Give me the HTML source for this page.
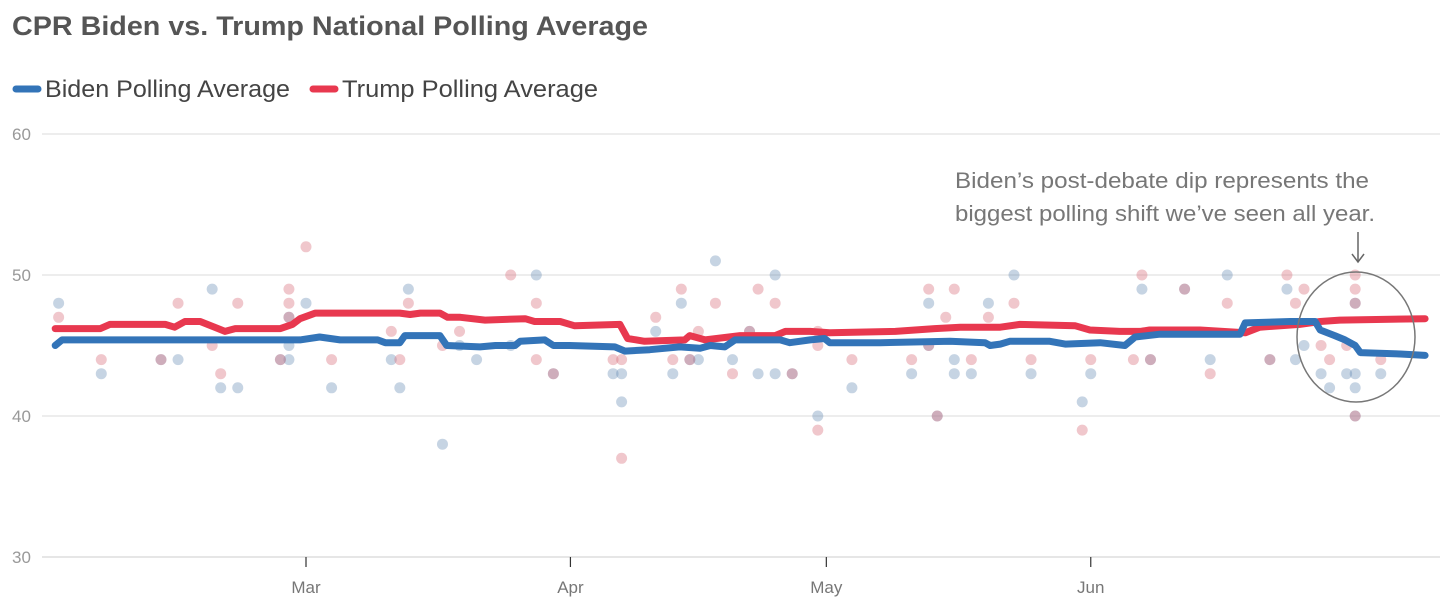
<!DOCTYPE html>
<html><head><meta charset="utf-8"><style>
html,body{margin:0;padding:0;background:#fff;}
svg{display:block;font-family:"Liberation Sans",sans-serif;}
</style></head><body>
<svg id="chart" width="1456" height="612" viewBox="0 0 1456 612">
<text x="12" y="35" font-size="27" font-weight="bold" fill="#555" textLength="636" lengthAdjust="spacingAndGlyphs">CPR Biden vs. Trump National Polling Average</text>
<g>
<g>
<line x1="16" y1="89" x2="38" y2="89" stroke="#3374b8" stroke-width="7" stroke-linecap="round"/>
<text x="45" y="97" font-size="24" fill="#444" textLength="245" lengthAdjust="spacingAndGlyphs">Biden Polling Average</text>
</g>
<g>
<line x1="313" y1="89" x2="335" y2="89" stroke="#e8384f" stroke-width="7" stroke-linecap="round"/>
<text x="342" y="97" font-size="24" fill="#444" textLength="256" lengthAdjust="spacingAndGlyphs">Trump Polling Average</text>
</g>
</g>
<g id="grid"></g>
<g id="xaxis"></g>
<g id="dots"></g>
<g id="lines"></g>
<g>
<text x="955" y="188" font-size="22" fill="#777" textLength="414" lengthAdjust="spacingAndGlyphs">Biden’s post-debate dip represents the</text>
<text x="955" y="221" font-size="22" fill="#777" textLength="420" lengthAdjust="spacingAndGlyphs">biggest polling shift we’ve seen all year.</text>
<line x1="1358" y1="232" x2="1358" y2="262" stroke="#666" stroke-width="1.5"/>
<polyline points="1352,254 1358,262 1364,254" fill="none" stroke="#666" stroke-width="1.5"/>
<ellipse cx="1356" cy="337" rx="59" ry="65" fill="none" stroke="#777" stroke-width="1.5"/>
</g>
</svg>
<script>
// days since Mar 1, 2024
const yTicks = [30, 40, 50, 60];
const monthLabels = ["Mar", "Apr", "May", "Jun"];
const monthDays = [0, 31, 61, 92];
const bidenDays = [-29.4,-28.6,-0.7,1.6,4.0,8.4,9.3,11.0,11.6,15.7,16.5,20.4,22.2,24.5,25.1,28.0,29.0,30.9,36.2,37.4,40.3,43.8,46.2,47.4,49.1,50.3,55.6,56.7,59.1,60.8,61.4,67.3,75.5,79.6,80.2,81.4,82.5,87.2,89.0,93.1,96.0,97.2,100.1,109.5,110.1,115.4,118.3,118.9,120.6,121.8,123.0,123.6,128.3,131.2];
const bidenVals = [45.0,45.4,45.4,45.6,45.4,45.4,45.2,45.2,45.7,45.7,45.0,44.9,45.0,45.0,45.3,45.4,45.0,45.0,44.9,44.6,44.7,44.9,44.8,45.0,44.9,45.4,45.4,45.2,45.4,45.5,45.2,45.2,45.3,45.2,45.0,45.1,45.3,45.3,45.1,45.2,45.0,45.6,45.8,45.8,46.6,46.7,46.7,46.1,45.7,45.4,45.0,44.5,44.4,44.3];
const trumpDays = [-29.4,-28.6,-24.1,-23.0,-16.5,-15.4,-14.2,-12.4,-10.7,-9.5,-8.3,-3.0,-1.6,-0.7,1.1,11.0,12.2,13.4,15.7,16.6,18.1,21.0,25.7,26.8,29.8,31.5,36.8,37.7,39.7,44.4,45.0,46.8,50.9,55.0,56.2,59.1,61.4,69.1,73.7,76.7,81.4,83.7,90.2,91.9,95.4,97.8,98.9,104.8,110.1,111.8,116.5,118.9,121.2,131.2];
const trumpVals = [46.2,46.2,46.2,46.5,46.5,46.3,46.7,46.7,46.3,46.0,46.2,46.2,46.5,46.9,47.3,47.3,47.2,47.3,47.3,47.0,47.0,46.8,46.9,46.7,46.7,46.4,46.5,45.5,45.3,45.4,45.7,45.4,45.7,45.7,46.0,46.0,45.9,46.0,46.2,46.3,46.3,46.5,46.4,46.1,46.0,46.0,46.1,46.1,45.9,46.3,46.5,46.7,46.8,46.9];
const bidenPollDays = [-29,-24,-17,-15,-11,-10,-8,-3,-2,-2,-2,0,3,10,11,12,16,18,20,24,27,29,36,37,37,41,43,44,45,46,48,50,52,53,55,55,57,60,64,71,73,73,74,76,76,78,80,83,85,91,92,98,99,103,106,108,113,115,116,117,119,120,122,123,123,123,123,126];
const bidenPollVals = [48,43,44,44,49,42,42,44,45,44,47,48,42,44,42,49,38,45,44,45,50,43,43,43,41,46,43,48,44,44,51,44,46,43,50,43,43,40,42,43,48,45,40,44,43,43,48,50,43,41,43,49,44,49,44,50,44,49,44,45,43,42,43,48,43,42,40,43];
const trumpPollDays = [-29,-24,-17,-15,-11,-10,-8,-3,-2,-2,-2,0,3,10,11,12,16,18,24,27,27,29,36,37,37,41,43,44,45,46,48,50,52,53,55,57,60,60,60,64,71,73,73,74,75,76,78,80,83,85,91,92,97,98,99,103,106,108,113,115,116,117,119,120,122,123,123,123,123,126];
const trumpPollVals = [47,44,44,48,45,43,48,44,49,48,47,52,44,46,44,48,45,46,50,48,44,43,44,44,37,47,44,49,44,46,48,43,46,49,48,43,46,45,39,44,44,49,45,40,47,49,44,47,48,44,39,44,44,50,44,49,43,48,44,50,48,49,45,44,45,50,49,48,40,44];

const NS = "http://www.w3.org/2000/svg";
const X0 = 306, PX_PER_DAY = 8.53;
const xScale = d => X0 + d * PX_PER_DAY;
const yScale = v => 557 - (v - 30) * 14.1;
function mk(tag, attrs, parent) {
  const el = document.createElementNS(NS, tag);
  for (const k in attrs) el.setAttribute(k, attrs[k]);
  parent.appendChild(el);
  return el;
}
const grid = document.getElementById('grid');
yTicks.forEach(t => {
  const ln = mk('line', {x1: 42, x2: 1440, y1: yScale(t), y2: yScale(t), stroke: t === 30 ? '#d8d8d8' : '#e2e2e2', 'stroke-width': 1.2}, grid);
  
  
  const tx = mk('text', {x: 12, y: yScale(t) + 6, 'font-size': 17, fill: '#999'}, grid);
  tx.textContent = t;
  
  
});
const xa = document.getElementById('xaxis');
monthLabels.forEach((m, i) => {
  const x = xScale(monthDays[i]);
  const tk = mk('line', {x1: x, x2: x, y1: 557, y2: 567, stroke: '#333', 'stroke-width': 1.2}, xa);
  
  
  const tx = mk('text', {x: x, y: 593, 'font-size': 17, fill: '#777', 'text-anchor': 'middle'}, xa);
  tx.textContent = m;
  
  
});
const dots = document.getElementById('dots');
bidenPollDays.forEach((d, i) => {
  const c = mk('circle', {cx: xScale(d), cy: yScale(bidenPollVals[i]), r: 5.5, fill: '#5b83b0', 'fill-opacity': 0.35}, dots);
  
  
});
trumpPollDays.forEach((d, i) => {
  const c = mk('circle', {cx: xScale(d), cy: yScale(trumpPollVals[i]), r: 5.5, fill: '#d9737f', 'fill-opacity': 0.4}, dots);
  
  
});
const lines = document.getElementById('lines');
function drawLine(days, vals, color, name) {
  const pts = days.map((d, i) => xScale(d).toFixed(1) + ',' + yScale(vals[i]).toFixed(1)).join(' ');
  const p = mk('polyline', {points: pts, fill: 'none', stroke: color, 'stroke-width': 7, 'stroke-linejoin': 'round', 'stroke-linecap': 'round'}, lines);
  
  
}
drawLine(trumpDays, trumpVals, '#e8384f', 'trump-average-line');
drawLine(bidenDays, bidenVals, '#3374b8', 'biden-average-line');
</script>
</body></html>
